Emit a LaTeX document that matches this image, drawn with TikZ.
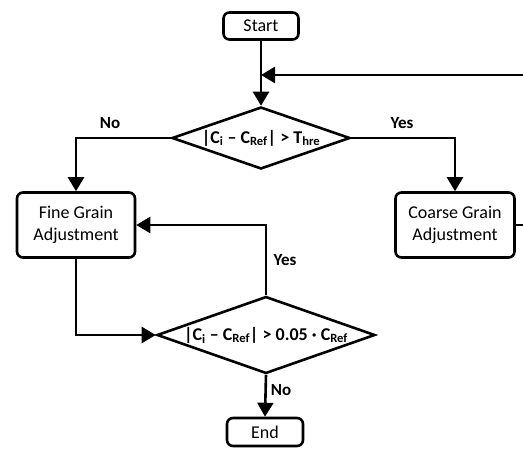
\documentclass[tikz,border=0pt]{standalone}
\usepackage{fontspec}
\setmainfont{Carlito}
\usepackage{tikz}
\usetikzlibrary{arrows.meta,shapes.geometric}

\tikzset{
  box/.style={draw,rounded corners=6pt,line width=2.6pt,align=center,inner sep=0pt},
  test/.style={draw,diamond,line width=2.6pt,inner sep=0pt,aspect=2.85},
  flow/.style={line width=2.6pt,-{Triangle[length=14pt,width=16pt]}},
  answer/.style={font=\fontsize{17}{20}\selectfont\bfseries}
}

\begin{document}
\begin{tikzpicture}[x=1pt,y=-1pt,font=\fontsize{18}{22}\selectfont]
\useasboundingbox (0,0) rectangle (523,448);
\node[box,minimum width=75pt,minimum height=27pt] (start) at (261,26) {Start};
\node[test,minimum width=178pt,minimum height=62pt] (big) at (261,138)
  {\textbf{|C\textsubscript{i} – C\textsubscript{Ref}| > T\textsubscript{hre}}};
\node[box,minimum width=118pt,minimum height=65pt] (fine) at (76,225) {Fine Grain\\Adjustment};
\node[box,minimum width=119pt,minimum height=65pt] (coarse) at (455,225) {Coarse Grain\\Adjustment};
\node[test,minimum width=218pt,minimum height=77pt] (small) at (266,335)
  {\textbf{|C\textsubscript{i} – C\textsubscript{Ref}| > 0.05 · C\textsubscript{Ref}}};
\node[box,minimum width=76pt,minimum height=28pt] (end) at (265,432) {End};
\coordinate (join) at (261,75);
\coordinate (back) at (540,225);

\draw[flow] (start) -- (big);
\draw[flow] (big.west) -| (fine.north);
\draw[flow] (big.east) -| (coarse.north);
\draw[flow] (fine.south) |- (small.west);
\draw[flow] (small.north) |- (fine.east);
\draw[flow] (small.south) -- (end.north);
\draw[flow] (coarse.east) -- (back) |- (join);

\node[answer] (no1) at (110,123) {No};
\node[answer] (yes1) at (402,123) {Yes};
\node[answer] (yes2) at (285,260) {Yes};
\node[answer] (no2) at (281,390) {No};
\end{tikzpicture}
\end{document}
